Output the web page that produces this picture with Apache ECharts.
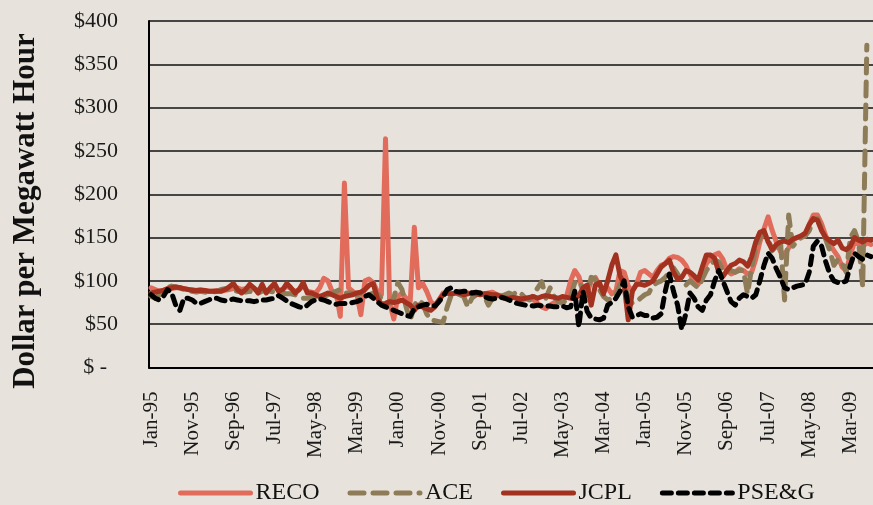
<!DOCTYPE html>
<html>
<head>
<meta charset="utf-8">
<script src="https://cdn.jsdelivr.net/npm/echarts@6/dist/echarts.min.js"></script>
<style>
html,body{margin:0;padding:0;background:#E7E3DC;}
#chart{width:873px;height:505px;}
</style>
</head>
<body>
<div id="chart"></div>
<script>
// Monthly categories Jan-95 .. Aug-09
const monthNames = ['Jan','Feb','Mar','Apr','May','Jun','Jul','Aug','Sep','Oct','Nov','Dec'];
const yearLabels = ['95','96','97','98','99','00','01','02','03','04','05','06','07','08','09'];
const months = yearLabels.flatMap(y => monthNames.map(m => m + '-' + y)).slice(0, 176);

const seriesNames = ['RECO', 'ACE', 'JCPL', 'PSE&G'];
const yTitle = 'Dollar per Megawatt Hour';

const reco = [
  92, 90, 88, 89, 90, 91, 92, 92, 91, 90, 90, 89,
  90, 89, 88, 88, 89, 88, 89, 90, 91, 92, 90, 91,
  92, 91, 89, 92, 88, 91, 93, 89, 90, 94, 91, 88,
  90, 94, 88, 87, 86, 92, 103, 100, 88, 86, 59, 213,
  92, 88, 85, 61, 100, 102, 98, 88, 84, 264, 75, 56,
  82, 86, 80, 76, 162, 92, 97, 88, 76, 72, 78, 86,
  86, 85, 86, 88, 87, 86, 85, 84, 86, 85, 86, 87,
  84, 83, 82, 80, 81, 80, 78, 79, 80, 78, 74, 70,
  68, 72, 75, 78, 80, 82, 100, 112, 105, 88, 85, 100,
  104, 95, 90, 92, 85, 88, 112, 110, 94, 88, 96, 110,
  112, 108, 104, 112, 118, 120, 126, 128, 127, 124, 118, 108,
  100, 96, 108, 120, 126, 130, 132, 125, 112, 108, 110, 114,
  112, 108, 110, 125, 145, 160, 174, 158, 145, 134, 130, 138,
  147, 150, 150, 152, 165, 176, 176, 166, 152, 142, 135, 128,
  116, 112, 130, 145, 142, 140, 144, 142
];

const ace = [
  82, 80, 84, 88, 92, 94, 93, 92, 90, 88, 88, 87,
  88, 87, 86, 87, 88, 90, 91, 90, 89, 88, 88, 87,
  88, 87, 86, 88, 89, 88, 87, 86, 86, 85, 85, 84,
  82, 80, 80, 81, 82, 83, 82, 84, 86, 88, 90, 86,
  86, 86, 84, 85, 86, 84, 86, 85, 80, 76, 74, 80,
  98, 90, 70, 54, 72, 78, 74, 62, 55, 54, 53, 52,
  70, 84, 86, 84, 82, 70, 80, 84, 85, 83, 72, 80,
  80, 82, 84, 86, 84, 88, 85, 80, 78, 84, 92, 99,
  80, 92, 82, 76, 74, 78, 82, 98, 100, 90, 84, 104,
  102, 90, 82, 78, 80, 84, 96, 98, 80, 74, 76, 80,
  84, 86, 95, 98, 100, 104, 110, 115, 108, 100, 95, 100,
  96, 92, 102, 112, 118, 124, 122, 112, 110, 112, 110, 112,
  112, 85, 115, 138, 150, 155, 148, 135, 140, 146, 78, 176,
  140, 145, 150, 152, 158, 170, 172, 160, 148, 135, 118, 125,
  120, 110, 150, 158, 145, 93, 372, null
];

const jcpl = [
  86, 87, 88, 89, 91, 92, 93, 92, 91, 90, 89, 89,
  89, 89, 88, 88, 88, 88, 90, 93, 97, 90, 86, 90,
  96, 92, 86, 96, 86, 92, 97, 88, 90, 97, 92, 86,
  90, 98, 86, 86, 84, 82, 84, 86, 84, 82, 80, 82,
  83, 84, 86, 87, 90, 95, 97, 80, 73, 74, 76, 75,
  76, 78, 75, 72, 66, 72, 70, 68, 66, 70, 78, 84,
  86, 85, 86, 86, 84, 85, 86, 85, 84, 85, 85, 84,
  84, 82, 80, 80, 81, 80, 79, 80, 81, 82, 80, 82,
  83, 82, 81, 80, 82, 81, 80, 80, 83, 92, 95, 72,
  95, 98, 85, 100, 118, 130, 106, 96, 55, 88, 96, 96,
  95, 97, 100, 108, 116, 120, 124, 110, 102, 104, 112, 110,
  106, 101, 116, 130, 130, 126, 110, 105, 112, 118, 120, 124,
  122, 117, 128, 145, 156, 158, 145, 136, 142, 145, 146, 144,
  148, 150, 152, 155, 165, 172, 170, 158, 150, 146, 143, 147,
  138, 136, 140, 150, 147, 145, 148, 147
];

const pseg = [
  84, 80, 78, 82, 90, 86, 72, 66, 80, 80, 78, 74,
  74, 76, 78, 80, 80, 78, 77, 78, 79, 78, 77, 77,
  77, 76, 77, 78, 78, 79, 80, 83, 80, 77, 74, 72,
  70, 69, 72, 76, 78, 79, 78, 76, 74, 73, 74, 74,
  74, 75, 76, 78, 82, 84, 80, 76, 72, 70, 68, 66,
  64, 62, 60, 59, 68, 70, 72, 73, 72, 71, 76, 82,
  90, 92, 88, 87, 88, 88, 86, 87, 86, 82, 80, 79,
  80, 81, 80, 78, 76, 74, 73, 72, 72, 71, 72, 71,
  71, 71, 70, 70, 71, 69, 70, 88, 47, 88, 65, 57,
  56, 55, 57, 72, 75, 80, 88, 100, 70, 58, 60, 62,
  60, 60, 57, 58, 62, 88, 108, 88, 72, 44, 62, 86,
  80, 70, 66, 78, 84, 100, 112, 100, 88, 76, 72, 80,
  84, 82, 80, 84, 100, 118, 132, 126, 114, 104, 92, 90,
  92, 94, 95, 96, 110, 140, 146, 140, 122, 108, 100, 98,
  98, 100, 118, 132, 128, 125, 130, 128
];

const yTicks = [0, 50, 100, 150, 200, 250, 300, 350, 400];

const FONT = '"Liberation Serif", "DejaVu Serif", serif';
const LW = 5;

function mkSeries(name, data, color, dash) {
  return {
    name: name,
    type: 'line',
    data: data,
    symbol: 'none',
    showSymbol: false,
    connectNulls: false,
    lineStyle: { color: color, width: LW, type: dash, cap: 'round', join: 'round' },
    itemStyle: { color: color },
    emphasis: { disabled: true }
  };
}

const chart = echarts.init(document.getElementById('chart'), null, { renderer: 'canvas' });
chart.setOption({
  backgroundColor: '#E7E3DC',
  animation: false,
  grid: { left: 149, right: -1, top: 21, bottom: 137.5, containLabel: false },
  legend: {
    data: seriesNames,
    left: 178,
    top: 481,
    padding: 0,
    itemWidth: 70,
    itemHeight: 14,
    itemGap: 28,
    itemStyle: { opacity: 0 },
    lineStyle: { width: LW, cap: 'round' },
    textStyle: { fontFamily: FONT, fontSize: 24, color: '#111' }
  },
  graphic: [{
    type: 'text',
    x: 26,
    y: 211,
    rotation: Math.PI / 2,
    silent: true,
    style: {
      text: yTitle,
      fontFamily: FONT,
      fontSize: 31,
      fontWeight: 'bold',
      fill: '#111',
      align: 'center',
      verticalAlign: 'middle'
    }
  }],
  xAxis: {
    type: 'category',
    data: months,
    boundaryGap: true,
    axisLine: { show: true, lineStyle: { color: '#000', width: 2 } },
    axisTick: { show: false },
    axisLabel: {
      interval: 9,
      rotate: 90,
      margin: 24,
      fontFamily: FONT,
      fontSize: 21,
      color: '#1a1a1a'
    },
    splitLine: { show: false }
  },
  yAxis: {
    type: 'value',
    min: yTicks[0],
    max: yTicks[yTicks.length - 1],
    interval: 50,
    axisLine: { show: true, lineStyle: { color: '#000', width: 2 } },
    axisTick: { show: false },
    axisLabel: {
      margin: 31,
      fontFamily: FONT,
      fontSize: 22,
      color: '#1a1a1a',
      formatter: function (v) { return v === 0 ? '$ -  ' : '$' + v; }
    },
    splitLine: { show: true, lineStyle: { color: '#111', width: 1.5 } }
  },
  series: [
    mkSeries(seriesNames[0], reco, '#E26C5C', 'solid'),
    mkSeries(seriesNames[1], ace, '#8E7C58', [14, 9]),
    mkSeries(seriesNames[2], jcpl, '#A3311F', 'solid'),
    mkSeries(seriesNames[3], pseg, '#000000', [9, 7])
  ]
});
</script>
</body>
</html>
